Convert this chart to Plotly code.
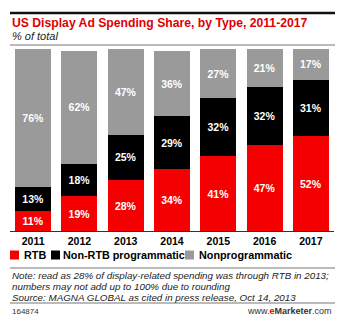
import plotly.graph_objects as go

years = ["2011", "2012", "2013", "2014", "2015", "2016", "2017"]
rtb = [11, 19, 28, 34, 41, 47, 52]
non_rtb = [13, 18, 25, 29, 32, 32, 31]
nonprog = [76, 62, 47, 36, 27, 21, 17]

series = [
    ("RTB", rtb, "#f50000"),
    ("Non-RTB programmatic", non_rtb, "#000000"),
    ("Nonprogrammatic", nonprog, "#9a9a9a"),
]

W, H = 345, 321
ML, MR, MT, MB = 10, 11, 49, 90
FONT = "Liberation Sans, Arial, sans-serif"


def py(y):
    """pixel row -> paper y"""
    return (H - MB - y) / (H - MT - MB)


def px(x):
    """pixel column -> paper x"""
    return (x - ML) / (W - ML - MR)


fig = go.Figure()
for name, vals, color in series:
    fig.add_trace(go.Bar(
        x=years, y=vals, name=name, marker=dict(color=color, line=dict(width=0)),
        texttemplate="%{y}%", textposition="inside", insidetextanchor="middle",
        textangle=0, constraintext="none",
        textfont=dict(family=FONT, size=10.5, color="white", weight="bold"),
        hoverinfo="skip", showlegend=False,
    ))

fig.update_layout(
    width=W, height=H, barmode="stack", bargap=0.22,
    margin=dict(l=ML, r=MR, t=MT, b=MB),
    paper_bgcolor="white", plot_bgcolor="white",
    font=dict(family=FONT, color="black"),
    xaxis=dict(range=[-0.5, 6.5], showgrid=False, showline=True, linecolor="#333",
               linewidth=1, ticks="", ticklabelstandoff=0,
               tickfont=dict(size=10.5, weight="bold", family=FONT)),
    yaxis=dict(range=[0, 100], visible=False),
)

# legend: square swatch followed by bold label
legend_x = [(10, 22), (51, 61), (185, 197)]
for (sx, tx), (name, _, color) in zip(legend_x, series):
    fig.add_shape(type="rect", xref="paper", yref="paper", x0=px(sx), x1=px(sx + 9),
                  y0=py(259.5), y1=py(250.5), fillcolor=color, line=dict(width=0))
    fig.add_annotation(xref="paper", yref="paper", x=px(tx), y=py(255), text=name,
                       showarrow=False, xanchor="left", yanchor="middle",
                       font=dict(family=FONT, size=10.8, color="black", weight="bold"))

# rules
lines = [(13, "#111", 2.5), (45, "#777", 1), (268, "#777", 1), (303, "#777", 1)]
for y, c, w in lines:
    fig.add_shape(type="line", xref="paper", yref="paper", x0=px(10), x1=px(335),
                  y0=py(y), y1=py(y), line=dict(color=c, width=w))

ann = [
    (10, 23, "US Display Ad Spending Share, by Type, 2011-2017", 12.2, "#e00000", "bold", "normal", "left"),
    (10, 36, "% of total", 11, "#222", "normal", "italic", "left"),
    (10, 275, "Note: read as 28% of display-related spending was through RTB in 2013;", 9.8, "#222", "normal", "italic", "left"),
    (10, 286, "numbers may not add up to 100% due to rounding", 9.8, "#222", "normal", "italic", "left"),
    (10, 297, "Source: MAGNA GLOBAL as cited in press release, Oct 14, 2013", 9.8, "#222", "normal", "italic", "left"),
    (10, 311, "164874", 8, "#333", "normal", "normal", "left"),
    (334, 311, "www.<b><span style='color:#e00000'>e</span>Marketer</b>.com", 9, "#333", "normal", "normal", "right"),
]
for x, y, t, s, c, wgt, sty, anc in ann:
    fig.add_annotation(xref="paper", yref="paper", x=px(x), y=py(y), text=t,
                       showarrow=False, xanchor=anc, yanchor="middle",
                       font=dict(family=FONT, size=s, color=c, weight=wgt, style=sty))

fig.write_html("out.html")
